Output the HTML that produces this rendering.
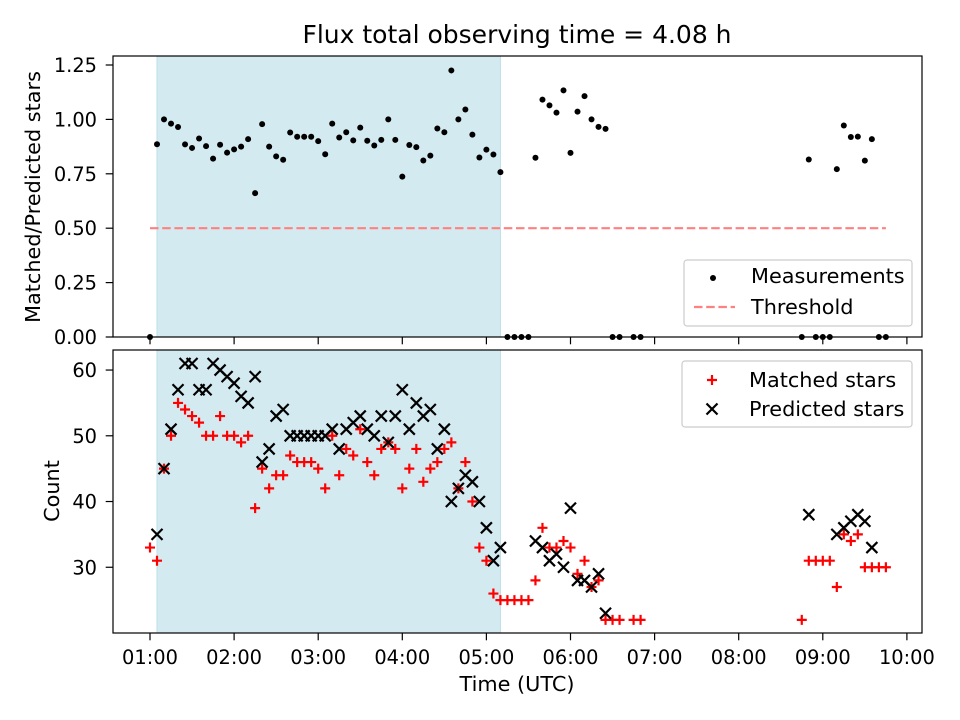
<!DOCTYPE html>
<html><head><meta charset="utf-8"><style>
html,body{margin:0;padding:0;background:#fff;}
svg{display:block;font-family:"DejaVu Sans","Liberation Sans",sans-serif;}
</style></head><body>
<svg id="chart" width="960" height="720" viewBox="0 0 960 720" xmlns="http://www.w3.org/2000/svg">
<rect width="960" height="720" fill="#fff"/>
<text x="517" y="43" font-size="25" text-anchor="middle">Flux total observing time = 4.08 h</text>
<text transform="translate(40,197) rotate(-90)" font-size="20.8" text-anchor="middle">Matched/Predicted stars</text>
<text transform="translate(59,491) rotate(-90)" font-size="20.8" text-anchor="middle">Count</text>
<text x="517" y="691" font-size="20.8" text-anchor="middle">Time (UTC)</text>
<g id="g"></g>
</svg>
<script>
// time index: t = 1 + i/12 hours (5-minute steps)
const timeIdx = [];
for (let i = 0; i <= 105; i++) timeIdx.push(i);
const matched = [33,31,45,50,55,54,53,52,50,50,53,50,50,49,50,39,45,42,44,44,47,46,46,46,45,42,50,44,48,47,51,46,44,48,49,48,42,45,48,43,45,46,48,49,42,46,40,33,31,26,25,25,25,25,25,28,36,33,33,34,33,29,31,27,28,22,22,22,null,22,22,
null,null,null,null,null,null,null,null,null,null,null,null,null,null,null,null,null,null,null,null,null,null,22,31,31,31,31,27,35,34,35,30,30,30,30];
const predicted = [null,35,45,51,57,61,61,57,57,61,60,59,58,56,55,59,46,48,53,54,50,50,50,50,50,50,51,48,51,52,53,51,50,53,49,53,57,51,55,53,54,48,51,40,42,44,43,40,36,31,33,null,null,null,null,34,33,31,32,30,39,28,28,27,29,23,null,null,null,null,null,
null,null,null,null,null,null,null,null,null,null,null,null,null,null,null,null,null,null,null,null,null,null,null,38,null,null,null,35,36,37,38,37,33,null,null];
const observedStart = 1 + 1/12, observedEnd = 1 + 50/12;
const threshold = 0.5;
const topTicks = [0,0.25,0.5,0.75,1.0,1.25];
const botTicks = [30,40,50,60];
const xTicks = [1,2,3,4,5,6,7,8,9,10];

const NS = "http://www.w3.org/2000/svg";
const g = document.getElementById('g');
const L = 113, R = 922;
const XMIN = 1 - 37/84.1, XMAX = 1 + (R-150)/84.1;
const xs = t => L + (t - XMIN) / (XMAX - XMIN) * (R - L);
const T0 = 56, T1 = 337, TYMAX = (T1-T0)/217.6;
const yt = v => T1 - v / TYMAX * (T1 - T0);
const B0 = 350, B1 = 633, BMIN = 20, BMAX = 63.05;
const yb = v => B1 - (v - BMIN) / (BMAX - BMIN) * (B1 - B0);
const tOf = i => 1 + i / 12;
const FT = 19.4, FL = 20.8, TL = 7.3;

function el(tag, attrs, parent) {
  const e = document.createElementNS(NS, tag);
  for (const k in attrs) e.setAttribute(k, attrs[k]);
  (parent || g).appendChild(e);
  return e;
}

[[T0,T1],[B0,B1]].forEach((p,k) => {
  const r = el('rect', {x: xs(observedStart), y: p[0], width: xs(observedEnd)-xs(observedStart), height: p[1]-p[0], fill: '#d4eaf1', stroke: '#bcdde7', 'stroke-width': 1});
  
  
});

const th = el('line', {x1: xs(1), x2: xs(tOf(105)), y1: yt(threshold), y2: yt(threshold), stroke: '#ff8080', 'stroke-width': 2.2, 'stroke-dasharray': '8.5 3.7'});



timeIdx.forEach(i => {
  const m = matched[i], p = predicted[i];
  if (m === null) return;
  const ratio = p ? m / p : 0;
  const c = el('circle', {cx: xs(tOf(i)), cy: yt(ratio), r: 3, fill: '#000'});
  
  
});

function plus(x, y, name) {
  const e = el('path', {d: `M${x-5},${y}H${x+5}M${x},${y-5}V${y+5}`, stroke: '#f00', 'stroke-width': 2.2, fill: 'none'});
  
  
}
function cross(x, y, name) {
  const d = 5.5;
  const e = el('path', {d: `M${x-d},${y-d}L${x+d},${y+d}M${x-d},${y+d}L${x+d},${y-d}`, stroke: '#000', 'stroke-width': 2.2, fill: 'none'});
  
  
}
timeIdx.forEach(i => { if (matched[i] !== null) plus(xs(tOf(i)), yb(matched[i]), 'matched-point'); });
timeIdx.forEach(i => { if (predicted[i] !== null) cross(xs(tOf(i)), yb(predicted[i]), 'predicted-point'); });

[[T0,T1,'top'],[B0,B1,'bottom']].forEach(p => {
  const r = el('rect', {x: L, y: p[0], width: R-L, height: p[1]-p[0], fill: 'none', stroke: '#000', 'stroke-width': 1.2});
  
  
  xTicks.forEach(t => el('line', {x1: xs(t), x2: xs(t), y1: p[1], y2: p[1]+TL, stroke: '#000', 'stroke-width': 1.2}));
});
xTicks.forEach(t => {
  const tx = el('text', {x: xs(t), y: 664, 'font-size': FT, 'text-anchor': 'middle'});
  tx.textContent = String(t).padStart(2,'0') + ':00';
  
  
});
topTicks.forEach(v => {
  el('line', {x1: L-TL, x2: L, y1: yt(v), y2: yt(v), stroke: '#000', 'stroke-width': 1.2});
  const tx = el('text', {x: L-16, y: yt(v)+7, 'font-size': FT, 'text-anchor': 'end'});
  tx.textContent = v.toFixed(2);
  
  
});
botTicks.forEach(v => {
  el('line', {x1: L-TL, x2: L, y1: yb(v), y2: yb(v), stroke: '#000', 'stroke-width': 1.2});
  const tx = el('text', {x: L-16, y: yb(v)+7, 'font-size': FT, 'text-anchor': 'end'});
  tx.textContent = v;
  
  
});

const lg1 = el('rect', {x: 684, y: 260, width: 228, height: 66, rx: 3, fill: '#fff', 'fill-opacity': 0.8, stroke: '#ccc', 'stroke-width': 1.2});


const lm = el('circle', {cx: 713, cy: 278, r: 3, fill: '#000'});


const lt1 = el('text', {x: 751, y: 283, 'font-size': FL}); lt1.textContent = 'Measurements';


const ll = el('line', {x1: 694, x2: 735, y1: 307, y2: 307, stroke: '#ff8080', 'stroke-width': 2.2, 'stroke-dasharray': '8.5 3.7'});


const lt2 = el('text', {x: 751, y: 314, 'font-size': FL}); lt2.textContent = 'Threshold';



const lg2 = el('rect', {x: 682, y: 361, width: 230, height: 66, rx: 3, fill: '#fff', 'fill-opacity': 0.8, stroke: '#ccc', 'stroke-width': 1.2});


plus(712, 380, 'legend-matched-marker');
const lt3 = el('text', {x: 749, y: 387, 'font-size': FL}); lt3.textContent = 'Matched stars';


cross(712, 409, 'legend-predicted-marker');
const lt4 = el('text', {x: 749, y: 416, 'font-size': FL}); lt4.textContent = 'Predicted stars';


</script>
</body></html>
